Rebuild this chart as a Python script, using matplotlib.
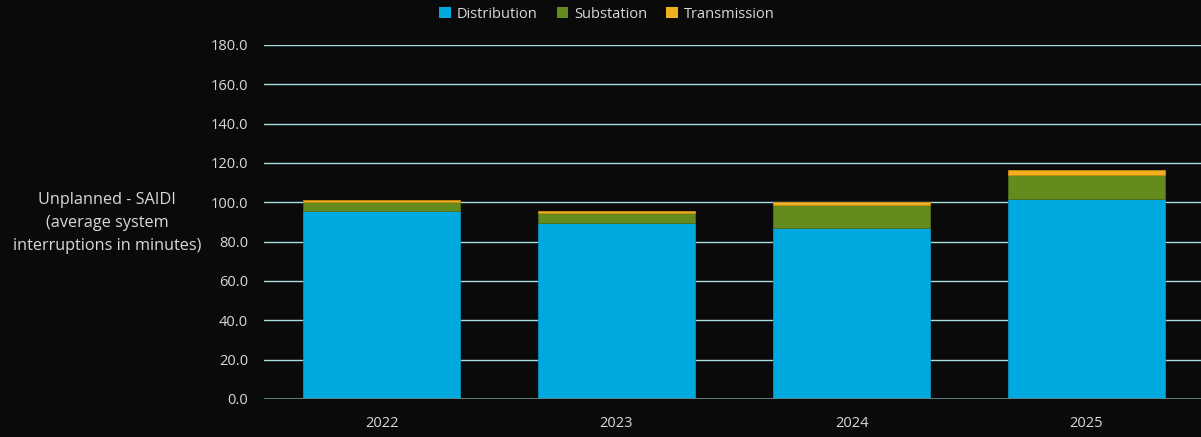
import matplotlib
matplotlib.use("Agg")
import matplotlib.pyplot as plt
from matplotlib.patches import Patch

years = ["2022", "2023", "2024", "2025"]
distribution = [95.6, 89.3, 86.8, 101.7]
substation = [4.6, 5.4, 11.9, 12.2]
transmission = [1.0, 0.9, 1.5, 2.5]
yticks = [0, 20, 40, 60, 80, 100, 120, 140, 160, 180]

series_names = ["Distribution", "Substation", "Transmission"]
colors = ["#00a9e0", "#658b1f", "#f1b020"]
edge_colors = ["#0a8fbd", "#4d6e18", "#c98a10"]
bg = "#0a0a0a"
txt = "#d9d9d9"

plt.rcParams['font.family'] = ['Open Sans', 'DejaVu Sans']

fig = plt.figure(figsize=(12.01, 4.37), dpi=100, facecolor=bg)
W, H = 1201, 437
ax = fig.add_axes([264 / W, (H - 399) / H, 940 / W, 354 / H])
ax.set_facecolor(bg)

x = list(range(len(years)))
bottom = [0.0] * len(years)
for vals, c, ec in zip([distribution, substation, transmission], colors, edge_colors):
    ax.bar(x, vals, width=0.67, bottom=bottom, color=c, edgecolor=ec,
           linewidth=0.6, zorder=3)
    bottom = [b + v for b, v in zip(bottom, vals)]

ax.set_xlim(-0.5, 3.5)
ax.set_ylim(0, 180)
ax.set_yticks(yticks)
ax.set_yticklabels([f"{v:.1f}" for v in yticks])
ax.set_xticks(x)
ax.set_xticklabels(years)

for v in yticks:
    if v == 0:
        ax.axhline(v, color="#5f8587", linewidth=1.3, zorder=4)
    else:
        ax.axhline(v, color="#a8dde0", linewidth=1.0, zorder=1)

for s in ax.spines.values():
    s.set_visible(False)
ax.tick_params(axis='both', length=0, colors=txt, labelsize=10.5)
ax.tick_params(axis='y', pad=11.5)
ax.tick_params(axis='x', pad=12)

fig.text(107 / W, 1 - 223 / H,
         "Unplanned - SAIDI\n(average system\ninterruptions in minutes)",
         ha='center', va='center', color=txt, fontsize=11.7, linespacing=1.6)

handles = [Patch(facecolor=c, edgecolor='none') for c in colors]
leg = fig.legend(handles, series_names, loc='center', bbox_to_anchor=(607 / W, 1 - 14 / H),
                 ncol=3, frameon=False, fontsize=10.5, handlelength=0.8, handleheight=0.8,
                 handletextpad=0.4, columnspacing=1.3, labelcolor=txt)

fig.savefig("out.png", dpi=100, facecolor=bg)
